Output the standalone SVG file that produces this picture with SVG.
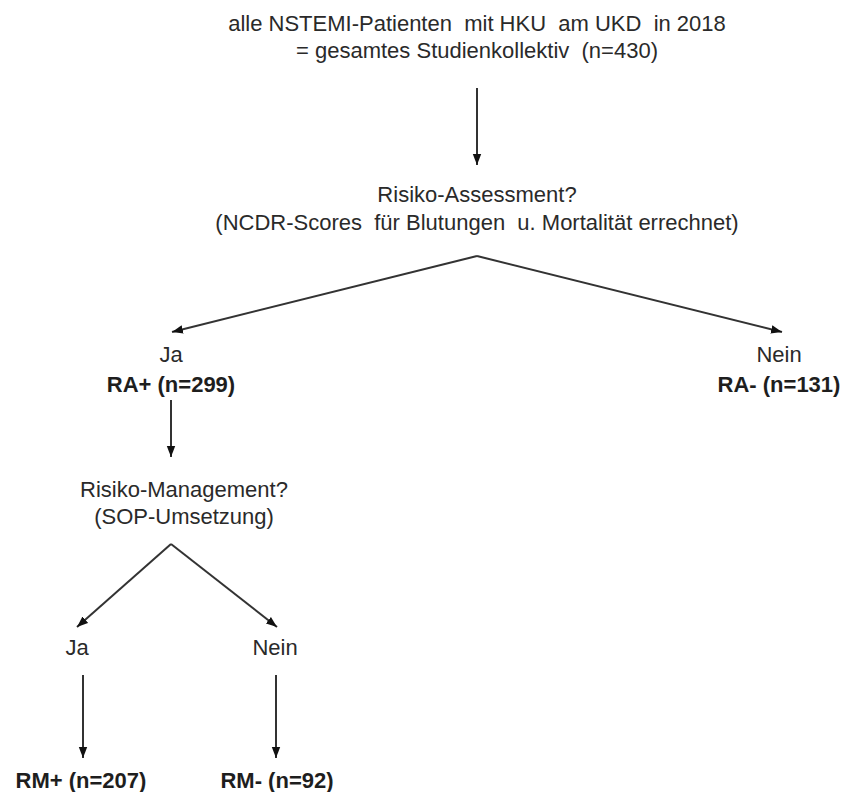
<svg xmlns="http://www.w3.org/2000/svg" width="845" height="792" viewBox="0 0 845 792">
<style>
text{font-family:"Liberation Sans",Arial,sans-serif;font-size:22px;fill:#2a2a2a;text-anchor:middle;white-space:pre}
.b{font-weight:bold;fill:#1e1e1e}
.c{stroke:#333;stroke-width:2;fill:none;marker-end:url(#ah)}
</style>
<defs>
<marker id="ah" markerUnits="userSpaceOnUse" markerWidth="11" markerHeight="10" viewBox="0 0 11 10" refX="11" refY="5" orient="auto">
<path d="M0,0.8 L11,5 L0,9.2 Z" fill="#111"/>
</marker>
</defs>
<rect width="845" height="792" fill="#fff"/>
<g id="connectors">
<line class="c" x1="477" y1="88" x2="477" y2="165"/>
<line class="c" x1="477" y1="256" x2="172" y2="332"/>
<line class="c" x1="477" y1="256" x2="782" y2="332"/>
<line class="c" x1="171" y1="400" x2="171" y2="457"/>
<line class="c" x1="171" y1="544" x2="77" y2="627"/>
<line class="c" x1="171" y1="544" x2="277" y2="627"/>
<line class="c" x1="83" y1="675" x2="83" y2="758"/>
<line class="c" x1="276" y1="675" x2="276" y2="758"/>
</g>
<g id="start">
<text x="477" y="31">alle NSTEMI-Patienten  mit HKU  am UKD  in 2018</text>
<text x="477" y="58">= gesamtes Studienkollektiv  (n=430)</text>
</g>
<g id="assessment">
<text x="477" y="202">Risiko-Assessment?</text>
<text x="477" y="230">(NCDR-Scores  für Blutungen  u. Mortalität errechnet)</text>
</g>
<g id="ra-plus">
<text x="171" y="362">Ja</text>
<text class="b" x="171" y="392">RA+ (n=299)</text>
</g>
<g id="ra-minus">
<text x="779" y="362">Nein</text>
<text class="b" x="779" y="392">RA- (n=131)</text>
</g>
<g id="management">
<text x="184" y="497">Risiko-Management?</text>
<text x="184" y="524">(SOP-Umsetzung)</text>
</g>
<g id="rm-ja">
<text x="77" y="655">Ja</text>
</g>
<g id="rm-nein">
<text x="275" y="655">Nein</text>
</g>
<g id="rm-plus">
<text class="b" x="81" y="788">RM+ (n=207)</text>
</g>
<g id="rm-minus">
<text class="b" x="277" y="788">RM- (n=92)</text>
</g>
</svg>
